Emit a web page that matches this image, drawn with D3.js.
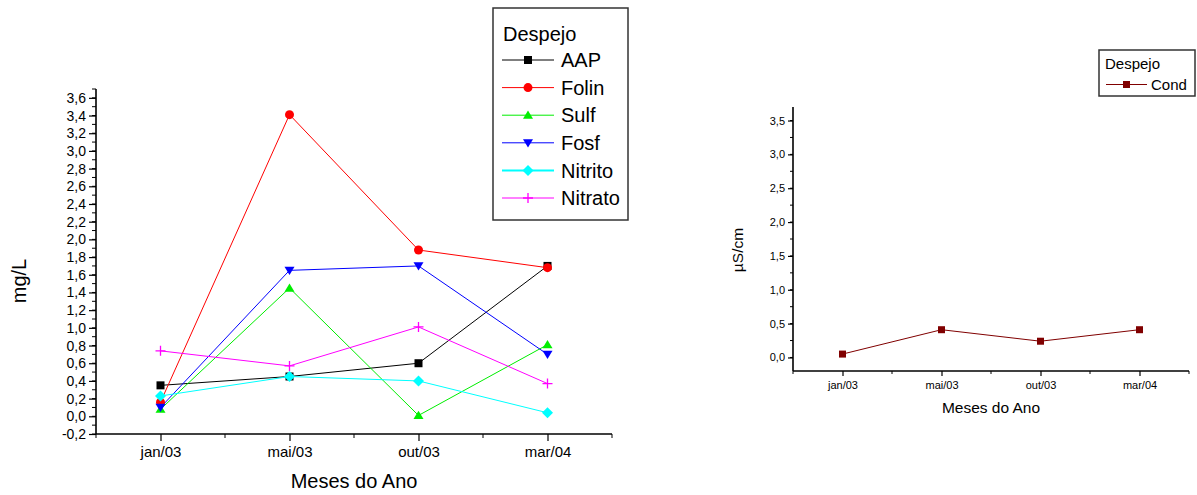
<!DOCTYPE html>
<html>
<head>
<meta charset="utf-8">
<script src="https://cdn.jsdelivr.net/npm/d3@7"></script>
<style>
  html, body { margin: 0; padding: 0; background: #fff; }
  svg { display: block; font-family: "Liberation Sans", Arial, sans-serif; }
</style>
</head>
<body>
<svg id="chart" width="1197" height="495"></svg>
<script>
// Months sampled
const months = ["jan/03", "mai/03", "out/03", "mar/04"];

// Left panel series (mg/L)
const aap     = [0.35, 0.45, 0.60, 1.70];
const folin   = [0.16, 3.41, 1.88, 1.68];
const sulf    = [0.08, 1.45, 0.01, 0.81];
const fosf    = [0.10, 1.65, 1.70, 0.70];
const nitrito = [0.23, 0.45, 0.40, 0.04];
const nitrato = [0.74, 0.57, 1.01, 0.37];

// Right panel series (µS/cm)
const cond = [0.05, 0.41, 0.24, 0.41];

// Tick labels
const leftYTicks  = [-0.2, 0, 0.2, 0.4, 0.6, 0.8, 1.0, 1.2, 1.4, 1.6, 1.8, 2.0, 2.2, 2.4, 2.6, 2.8, 3.0, 3.2, 3.4, 3.6];
const rightYTicks = [0, 0.5, 1.0, 1.5, 2.0, 2.5, 3.0, 3.5];

const leftSeries = [
  { name: "AAP",     values: aap,     color: "#000000", symbol: "square" },
  { name: "Folin",   values: folin,   color: "#ff0000", symbol: "circle" },
  { name: "Sulf",    values: sulf,    color: "#00ee00", symbol: "triUp" },
  { name: "Fosf",    values: fosf,    color: "#0000ff", symbol: "triDown" },
  { name: "Nitrito", values: nitrito, color: "#00ffff", symbol: "diamond" },
  { name: "Nitrato", values: nitrato, color: "#ff00ff", symbol: "plus" }
];
const rightSeries = [
  { name: "Cond", values: cond, color: "#800000", symbol: "square" }
];

const locale = d3.formatLocale({ decimal: ",", thousands: ".", grouping: [3], currency: ["", ""], minus: "-" });
const fmt1 = locale.format(".1f");

const svg = d3.select("#chart");

function drawMarker(g, symbol, color, size) {
  const s = size;
  if (symbol === "square") {
    g.append("rect").attr("x", -s / 2).attr("y", -s / 2).attr("width", s).attr("height", s).attr("fill", color);
  } else if (symbol === "circle") {
    g.append("circle").attr("r", s / 2 + 0.5).attr("fill", color);
  } else if (symbol === "triUp") {
    const h = s * 0.9;
    g.append("path").attr("d", `M0,${-h / 2 - 1}L${s / 2 + 1},${h / 2}L${-s / 2 - 1},${h / 2}Z`).attr("fill", color);
  } else if (symbol === "triDown") {
    const h = s * 0.9;
    g.append("path").attr("d", `M0,${h / 2 + 1}L${s / 2 + 1},${-h / 2}L${-s / 2 - 1},${-h / 2}Z`).attr("fill", color);
  } else if (symbol === "diamond") {
    const r = s / 2 + 1.5;
    g.append("path").attr("d", `M0,${-r}L${r},0L0,${r}L${-r},0Z`).attr("fill", color);
  } else if (symbol === "plus") {
    const r = s / 2 + 1;
    g.append("path").attr("d", `M${-r},0H${r}M0,${-r}V${r}`).attr("stroke", color).attr("stroke-width", 1.3).attr("fill", "none");
  }
}

function panel(opt) {
  const x = d3.scaleLinear().domain([0.5, 4.5]).range([opt.left, opt.right]);
  const y = d3.scaleLinear().domain([-0.2, 3.7]).range([opt.bottom, opt.top]);
  const g = svg.append("g");

  // minor ticks
  const yMinor = d3.range(opt.minorStart, 3.7 + 1e-9, opt.minorStep).map(v => +v.toFixed(3));
  g.append("g").selectAll("line").data(yMinor).join("line")
    .attr("x1", opt.left - opt.minorLen).attr("x2", opt.left)
    .attr("y1", d => y(d)).attr("y2", d => y(d))
    .attr("stroke", "#000").attr("stroke-width", 1);
  const xMinor = [0.5, 1.5, 2.5, 3.5, 4.5];
  g.append("g").selectAll("line").data(xMinor).join("line")
    .attr("x1", d => x(d)).attr("x2", d => x(d))
    .attr("y1", opt.bottom).attr("y2", opt.bottom + opt.minorLen)
    .attr("stroke", "#000").attr("stroke-width", 1);

  // major axes
  const yAxis = d3.axisLeft(y).tickValues(opt.yTicks).tickFormat(fmt1).tickSize(opt.majorLen).tickPadding(3);
  const yg = g.append("g").attr("transform", `translate(${opt.left},0)`).call(yAxis);
  const xAxis = d3.axisBottom(x).tickValues([1, 2, 3, 4]).tickFormat(d => months[d - 1]).tickSize(opt.majorLen).tickPadding(opt.xPad);
  const xg = g.append("g").attr("transform", `translate(0,${opt.bottom})`).call(xAxis);
  [yg, xg].forEach((a, k) => {
    a.select(".domain").remove();
    a.selectAll(".tick line").attr("stroke", "#000").attr("stroke-width", 1.2);
    a.selectAll("text").attr("font-size", k === 0 ? opt.yTickFont : opt.xTickFont).attr("fill", "#000")
      .attr("font-family", "'Liberation Sans', Arial, sans-serif");
  });
  g.append("line").attr("x1", opt.left).attr("x2", opt.left).attr("y1", opt.top).attr("y2", opt.bottom)
    .attr("stroke", "#000").attr("stroke-width", 1.6);
  g.append("line").attr("x1", opt.left).attr("x2", opt.right).attr("y1", opt.bottom).attr("y2", opt.bottom)
    .attr("stroke", "#000").attr("stroke-width", 1.6);

  // axis titles
  g.append("text").attr("x", (opt.left + opt.right) / 2).attr("y", opt.xTitleY)
    .attr("text-anchor", "middle").attr("font-size", opt.titleFont).text("Meses do Ano");
  g.append("text").attr("transform", `translate(${opt.yTitleX},${opt.yTitleCy}) rotate(-90)`)
    .attr("text-anchor", "middle").attr("font-size", opt.titleFont).text(opt.yTitle);

  // series
  const line = d3.line().x((d, i) => x(i + 1)).y(d => y(d));
  opt.series.forEach(s => {
    g.append("path").datum(s.values).attr("d", line)
      .attr("fill", "none").attr("stroke", s.color).attr("stroke-width", 1);
  });
  opt.series.forEach(s => {
    s.values.forEach((v, i) => {
      const m = g.append("g").attr("transform", `translate(${x(i + 1)},${y(v)})`);
      drawMarker(m, s.symbol, s.color, opt.markerSize);
    });
  });

  // legend
  const L = opt.legend;
  const lg = svg.append("g");
  lg.append("rect").attr("x", L.x).attr("y", L.y).attr("width", L.w).attr("height", L.h)
    .attr("fill", "#fff").attr("stroke", "#333").attr("stroke-width", 1.5);
  lg.append("text").attr("x", L.textX0).attr("y", L.titleY).attr("font-size", L.font).text("Despejo");
  opt.series.forEach((s, i) => {
    const cy = L.row0 + i * L.rowStep;
    lg.append("line").attr("x1", L.lineX1).attr("x2", L.lineX2).attr("y1", cy).attr("y2", cy)
      .attr("stroke", s.color).attr("stroke-width", s.name === "Nitrito" ? 2 : 1);
    const m = lg.append("g").attr("transform", `translate(${(L.lineX1 + L.lineX2) / 2},${cy})`);
    drawMarker(m, s.symbol, s.color, L.marker);
    lg.append("text").attr("x", L.textX).attr("y", cy).attr("dy", "0.36em")
      .attr("font-size", L.font).text(s.name);
  });
}

panel({
  left: 96, right: 612, top: 89, bottom: 434,
  yTicks: leftYTicks, minorStart: -0.2, minorStep: 0.1,
  majorLen: 7, minorLen: 4, yTickFont: 14, xTickFont: 15, xPad: 5,
  titleFont: 20, xTitleY: 488, yTitle: "mg/L", yTitleX: 26, yTitleCy: 281,
  series: leftSeries, markerSize: 8,
  legend: { x: 493, y: 8, w: 135, h: 212, font: 20, textX0: 503, titleY: 41,
            row0: 60, rowStep: 27.6, lineX1: 502, lineX2: 554, textX: 561, marker: 8 }
});

panel({
  left: 793, right: 1189, top: 107, bottom: 371,
  yTicks: rightYTicks, minorStart: 0, minorStep: 0.25,
  majorLen: 5, minorLen: 3, yTickFont: 11, xTickFont: 11, xPad: 5,
  titleFont: 15.5, xTitleY: 413, yTitle: "µS/cm", yTitleX: 743, yTitleCy: 250,
  series: rightSeries, markerSize: 7,
  legend: { x: 1099, y: 50, w: 96, h: 46, font: 15, textX0: 1105, titleY: 69,
            row0: 84.5, rowStep: 20, lineX1: 1106, lineX2: 1147, textX: 1151, marker: 7 }
});
</script>
</body>
</html>
